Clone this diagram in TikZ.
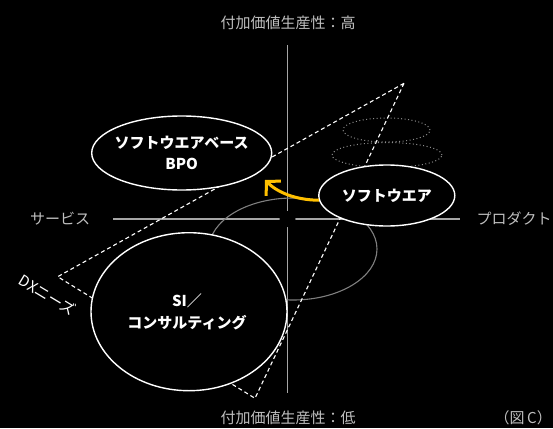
\documentclass[tikz,border=0pt]{standalone}
\usepackage{fontspec}
\setmainfont{Noto Sans CJK JP}
\usetikzlibrary{shapes.geometric,arrows.meta}
\definecolor{axisgray}{HTML}{A6A6A6}
\definecolor{labelgray}{HTML}{BFBFBF}
\definecolor{midgray}{HTML}{7F7F7F}
\definecolor{dotgray}{HTML}{8C8C8C}
\definecolor{arrowyellow}{HTML}{FFC000}
\tikzset{
  axisline/.style={draw=axisgray, line width=1.2pt},
  axislabel/.style={text=labelgray, font=\fontsize{15}{18}\selectfont, inner sep=0pt},
  bubble/.style={ellipse, draw=white, line width=1.4pt, fill=black, inner sep=0pt},
  bubbletext/.style={text=white, font=\bfseries\fontsize{15}{21.5}\selectfont, align=center, inner sep=0pt},
  dxline/.style={draw=white, line width=1.1pt, dash pattern=on 4pt off 3pt},
  ghost/.style={ellipse, draw=dotgray, line width=1pt, dash pattern=on 1pt off 2.5pt, inner sep=0pt},
  pastshape/.style={ellipse, draw=midgray, line width=1.1pt, inner sep=0pt},
  moveto/.style={draw=arrowyellow, line width=3pt, -{Straight Barb[length=10pt,width=21pt]}}
}
\begin{document}
\begin{tikzpicture}[x=1pt,y=-1pt]
\fill[black] (0,0) rectangle (553,428);
\useasboundingbox (0,0) rectangle (553,428);
% axis labels
\node[axislabel] (high) at (288,23) {付加価値生産性：高};
\node[axislabel] (low) at (288,418) {付加価値生産性：低};
\node[axislabel] (svc) at (60,219) {サービス};
\node[axislabel] (prd) at (514,219) {プロダクト};
\node[axislabel, anchor=east] (fig) at (552,418) {（図\,C）};
% axes
\coordinate (vt) at (287.5,45);
\coordinate (vb) at (287.5,393);
\coordinate (hl) at (113,219);
\coordinate (hr) at (460,219);
\draw[axisline] (vt) -- (vb);
\draw[axisline] (hl) -- (hr);
\fill[black] (287.5,219) circle[radius=8];
% background shapes
\node[pastshape, minimum width=168pt, minimum height=102pt] (past) at (293,249) {};
\node[ghost, minimum width=87pt, minimum height=24pt] (g1) at (386.5,130) {};
\node[ghost, minimum width=110pt, minimum height=25pt] (g2) at (387,155) {};
% DX triangle
\coordinate (dxa) at (404,83.3);
\coordinate (dxb) at (57.7,276.7);
\coordinate (dxc) at (255,398.3);
\draw[dxline] (dxa) -- (dxb) -- (dxc) -- cycle;
% bubbles
\node[bubble, minimum width=180pt, minimum height=74pt] (bpo) at (181.7,153) {};
\node[bubble, minimum width=196pt, minimum height=158pt] (si) at (189,311.7) {};
\node[bubble, minimum width=136pt, minimum height=61pt] (soft) at (386.8,195.5) {};
\node[bubbletext] (bpot) at (bpo.center) {ソフトウエアベース\\BPO};
\node[bubbletext] (sit) at ([xshift=-2pt]si.center) {SI／\\コンサルティング};
\node[bubbletext] (softt) at (soft.center) {ソフトウエア};
\node[text=white, font=\fontsize{15}{18}\selectfont, inner sep=0pt, rotate=-31] (dx) at (48,295) {DXニーズ};
% arrow
\coordinate (tip) at (265,180);
\draw[moveto] (soft.184) .. controls (295,200) and (277,192) .. (tip);
\end{tikzpicture}
\end{document}
